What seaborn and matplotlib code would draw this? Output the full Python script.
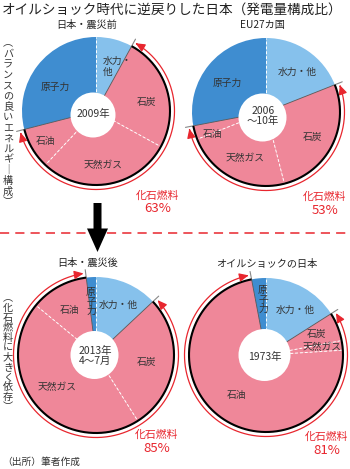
import numpy as np
import matplotlib
matplotlib.use("Agg")
import matplotlib.pyplot as plt
import seaborn as sns
from matplotlib.patches import Circle, FancyArrowPatch, Polygon
from matplotlib.path import Path

# ---- data: power generation mix (%), clockwise from 12 o'clock ----
categories = ["水力・他", "石炭", "天然ガス", "石油", "原子力"]
is_fossil = [False, True, True, True, False]
share_2009 = [8, 25, 29, 9, 29]       # Japan before the earthquake
share_eu = [19, 27, 23, 3, 28]        # EU27, 2006-10
share_2013 = [13, 28, 45, 12, 2]      # Japan after the earthquake
share_1973 = [16, 6, 2, 73, 3]        # Japan at the oil shock
panel_titles = ["日本・震災前", "EU27カ国", "日本・震災後", "オイルショックの日本"]
center_labels = ["2009年", "2006\n～10年", "2013年\n4～7月", "1973年"]
main_title = "オイルショック時代に逆戻りした日本（発電量構成比）"
row_notes = ["︵バランスの良いエネルギ｜構成︶", "︵化石燃料に大きく依存︶"]
source_note = "（出所）筆者作成"

sns.set_theme(style="white")
plt.rcParams["font.family"] = ["Noto Sans CJK JP", "DejaVu Sans"]

palette = {
    "水力・他": "#86c1ec",
    "原子力": "#3f8dd0",
    "石炭": "#ef8799",
    "天然ガス": "#ef8799",
    "石油": "#ef8799",
}
RED = "#e8262e"
TXT = "#333333"

W, H = 350, 469
fig = plt.figure(figsize=(W / 100, H / 100), dpi=100)
ax = fig.add_axes([0, 0, 1, 1])

# layout of each panel (pixel coordinates, y downward)
layout = [
    dict(c=(96, 111), R=74, hole=(93, 115, 22.5), title=(87, 25),
         center_txt=(93, 114), fossil_txt=(158, 196),
         labels={"水力・他": (103, 66, "水力・\n他", "left"),
                 "原子力": (55, 87, None, "center"),
                 "石炭": (147, 102, None, "center"),
                 "石油": (46, 141, None, "center"),
                 "天然ガス": (103, 165, None, "center")}),
    dict(c=(266, 112), R=74, hole=(262.5, 117.5, 24), title=(262, 25),
         center_txt=(263, 116), fossil_txt=(325, 197),
         labels={"水力・他": (297, 72, None, "center"),
                 "原子力": (227, 83, None, "center"),
                 "石炭": (313, 137, None, "center"),
                 "石油": (213, 134, None, "center"),
                 "天然ガス": (245, 158, None, "center")}),
    dict(c=(96, 355), R=78, hole=(94.5, 355, 24), title=(88, 263),
         center_txt=(95, 356), fossil_txt=(157, 435),
         labels={"水力・他": (118, 305, None, "center"),
                 "原子力": (91, 292, "vertical", "center"),
                 "石炭": (147, 362, None, "center"),
                 "石油": (70, 310, None, "center"),
                 "天然ガス": (57, 387, None, "center")}),
    dict(c=(266, 355), R=77, hole=(264.5, 355, 26), title=(267, 264),
         center_txt=(265, 357), fossil_txt=(327, 437),
         labels={"水力・他": (295, 310, None, "center"),
                 "原子力": (263, 290, "vertical", "center"),
                 "石炭": (317, 334, None, "center"),
                 "石油": (237, 395, None, "center"),
                 "天然ガス": (322, 347, None, "center")}),
]

all_shares = [share_2009, share_eu, share_2013, share_1973]


def pt(c, r, ang):
    a = np.deg2rad(ang)
    return c[0] + r * np.cos(a), c[1] + r * np.sin(a)


for shares, lay, ptitle, ctext in zip(all_shares, layout, panel_titles, center_labels):
    c, R = lay["c"], lay["R"]
    colors = [palette[k] for k in categories]
    # y axis is inverted, so counterclock=True runs clockwise on screen
    ax.pie(shares, colors=colors, startangle=-90, counterclock=True,
           center=c, radius=R, frame=True,
           wedgeprops=dict(linewidth=0, edgecolor="none"))

    cum = np.concatenate([[0], np.cumsum(shares)])
    angles = -90 + cum * 3.6
    n = len(shares)
    # slice boundaries
    for i in range(n):
        left = is_fossil[i - 1]
        right = is_fossil[i]
        ang = angles[i]
        x1, y1 = pt(c, R, ang)
        if left != right:
            ax.plot([c[0], x1], [c[1], y1], color="#555555", lw=0.6, zorder=3)
            tx0, ty0 = pt(c, R - 1, ang)
            tx1, ty1 = pt(c, R + 8, ang)
            ax.plot([tx0, tx1], [ty0, ty1], color="#888888", lw=0.8, zorder=4)
        else:
            ax.plot([c[0], x1], [c[1], y1], color="white", lw=0.7,
                    ls=(0, (3, 2)), zorder=3)

    # fossil span: black rim plus red double-headed arc
    first = is_fossil.index(True)
    last = len(is_fossil) - 1 - is_fossil[::-1].index(True)
    a0, a1 = angles[first], angles[last + 1]
    th = np.linspace(a0, a1, 200)
    bx, by = pt(c, R, th)
    ax.plot(bx, by, color="black", lw=1.5, zorder=4, solid_capstyle="butt")
    th = np.linspace(a0 + 1.5, a1 - 1.5, 300)
    rx, ry = pt(c, R + 4.5, th)
    arc = FancyArrowPatch(path=Path(np.column_stack([rx, ry])),
                          arrowstyle="<|-|>,head_length=0.55,head_width=0.25",
                          mutation_scale=10, color=RED, lw=0.9, zorder=5)
    ax.add_patch(arc)

    # center hole
    hx, hy, hr = lay["hole"]
    ax.add_patch(Circle((hx, hy), hr, facecolor="white", edgecolor="none", zorder=6))
    ax.text(*lay["center_txt"], ctext, ha="center", va="center", fontsize=7.5,
            color=TXT, linespacing=1.05, zorder=7)

    # slice labels
    for cat in categories:
        x, y, alt, ha = lay["labels"][cat]
        if alt == "vertical":
            for j, ch in enumerate(cat):
                ax.text(x, y + j * 9.5, ch, ha="center", va="center",
                        fontsize=7, color=TXT, zorder=7)
        else:
            ax.text(x, y, alt if alt else cat, ha=ha, va="center", fontsize=7,
                    color=TXT, linespacing=1.1, zorder=7)

    # panel title and fossil total
    ax.text(*lay["title"], ptitle, ha="center", va="center", fontsize=7.3, color="#222222")
    fx, fy = lay["fossil_txt"]
    fossil_sum = sum(s for s, f in zip(shares, is_fossil) if f)
    ax.text(fx, fy, "化石燃料", ha="center", va="center", fontsize=7.8, color=RED)
    ax.text(fx, fy + 13, f"{fossil_sum}%", ha="center", va="center", fontsize=9.5, color=RED)

# main title
ax.text(2, 10, main_title, ha="left", va="center", fontsize=9.8, color="#222222")


# vertical notes on the left, one character per line
def vertical_text(x, y0, step, s, size):
    for j, ch in enumerate(s):
        ax.text(x, y0 + j * step, ch, ha="center", va="center", fontsize=size,
                color=TXT)


vertical_text(8, 43, 10.6, row_notes[0], 7.3)
vertical_text(8, 298, 9.9, row_notes[1], 7.3)

# red dashed divider and down arrow
ax.plot([0, W], [232.7, 232.7], color=RED, lw=1.1, ls=(0, (6, 4)), zorder=2)
ax.add_patch(Polygon([(93.5, 203), (101.5, 203), (101.5, 228.5), (108, 228.5),
                      (97.5, 252), (87, 228.5), (93.5, 228.5)],
                     closed=True, facecolor="black", edgecolor="none", zorder=8))

ax.text(2, 462, source_note, ha="left", va="center", fontsize=7, color=TXT)

ax.set_xlim(0, W)
ax.set_ylim(H, 0)
ax.set_aspect("auto")
ax.axis("off")
fig.savefig("out.png", dpi=100)
